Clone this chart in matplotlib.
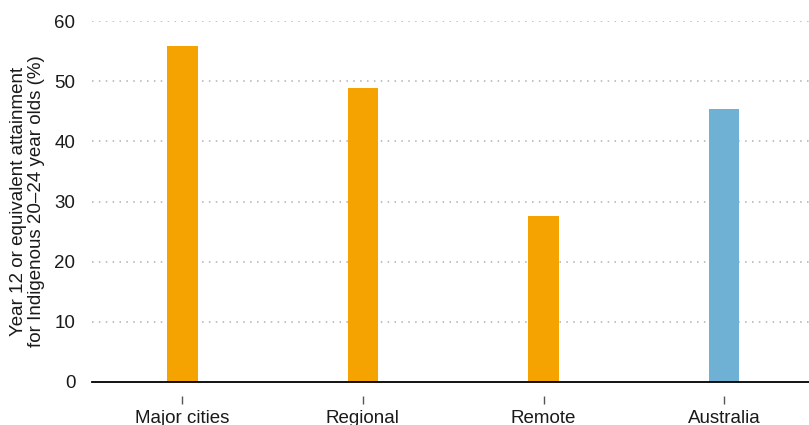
import matplotlib
matplotlib.use("Agg")
import matplotlib.pyplot as plt

categories = ["Major cities", "Regional", "Remote", "Australia"]
values = [55.8, 48.9, 27.6, 45.4]
colors = ["#F4A300", "#F4A300", "#F4A300", "#6EB1D5"]
yticks = [0, 10, 20, 30, 40, 50, 60]

plt.rcParams['font.family'] = ['Liberation Sans', 'DejaVu Sans']

fig = plt.figure(figsize=(8.09, 4.25), dpi=100)
ax = fig.add_axes([92/809, 1 - 382/425, 1 - 92/809, (382 - 21)/425])

x = list(range(len(categories)))
ax.bar(x, values, width=0.17, color=colors, zorder=3)
ax.set_xlim(-0.5, 3.47)
ax.set_ylim(0, 60)
ax.set_yticks(yticks)
ax.set_xticks(x)
ax.set_xticklabels(categories)
ax.tick_params(axis='y', length=0, pad=12, labelsize=13.5, labelcolor="#1a1a1a")
ax.tick_params(axis='x', length=6, width=1, color="#555555", pad=4,
               labelsize=13.5, labelcolor="#1a1a1a")

for s in ['top', 'right', 'left']:
    ax.spines[s].set_visible(False)
ax.spines['bottom'].set_position(('outward', 10))
ax.spines['bottom'].set_visible(False)

for yv in yticks[1:]:
    ax.axhline(yv, color="#b0b0b0", linestyle=(0, (1, 3.5)), linewidth=1.1, zorder=1)
ax.axhline(0, color="#000000", linewidth=1.3, zorder=4, clip_on=False)

ax.set_ylabel("Year 12 or equivalent attainment\nfor Indigenous 20–24 year olds (%)",
              fontsize=13.5, color="#1a1a1a", labelpad=7, linespacing=1.05)

fig.savefig("out.png", dpi=100)
